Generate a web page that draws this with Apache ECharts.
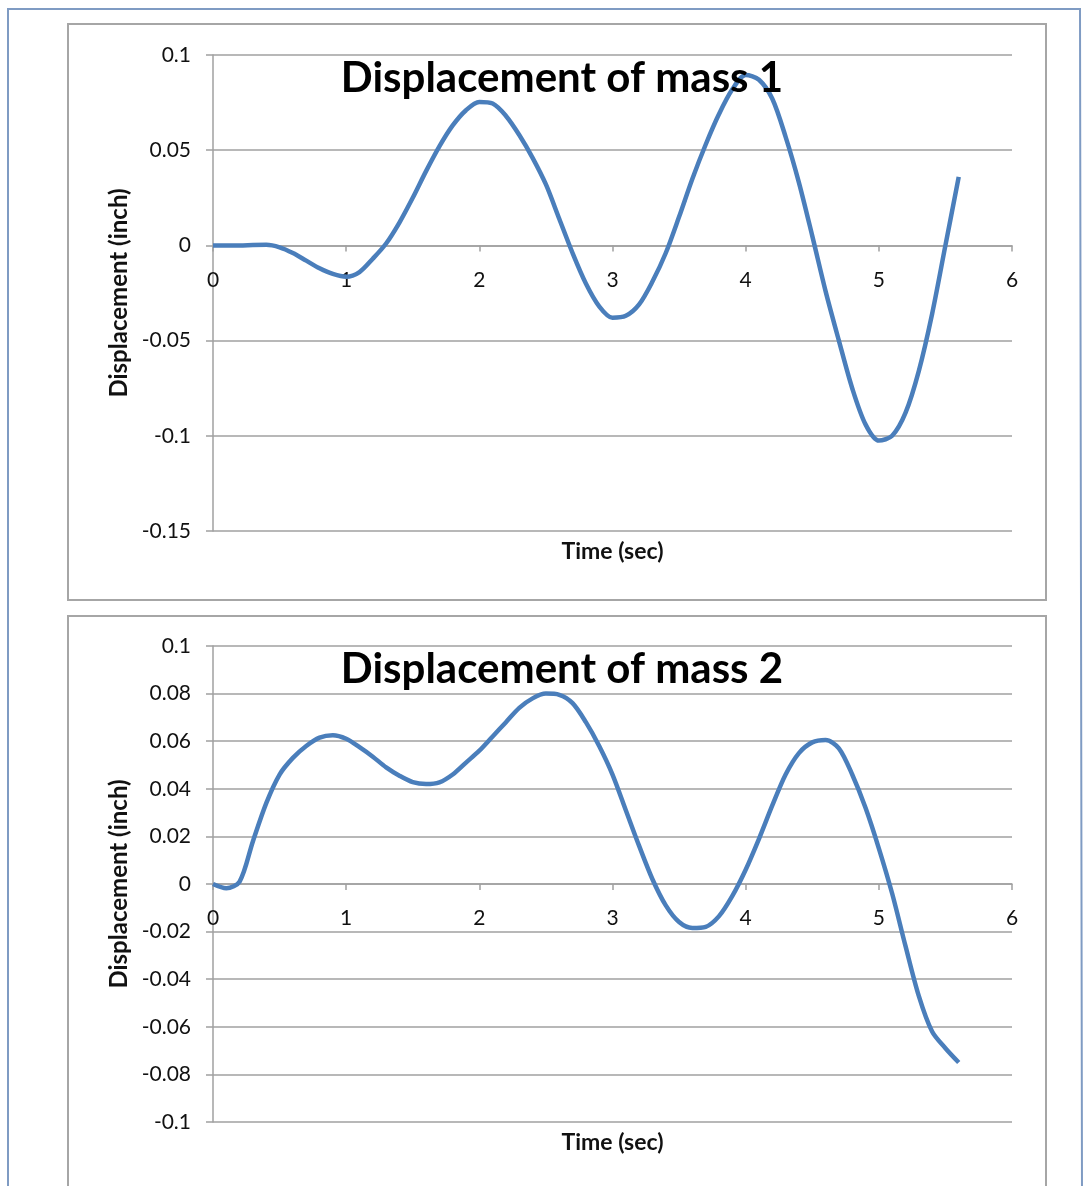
<!DOCTYPE html>
<html>
<head>
<meta charset="utf-8">
<script src="https://cdn.jsdelivr.net/npm/echarts@6/dist/echarts.min.js"></script>
<style>
  html, body { margin: 0; padding: 0; background: #fff; }
  #container { width: 1084px; height: 1186px; }
</style>
</head>
<body>
<div id="container"></div>
<script>
// time samples (sec)
var time = [0, 0.1, 0.2, 0.3, 0.4, 0.5, 0.6, 0.7, 0.8, 0.9,
    1.0, 1.1, 1.2, 1.3, 1.4, 1.5, 1.6, 1.7, 1.8, 1.9,
    2.0, 2.1, 2.2, 2.3, 2.4, 2.5, 2.6, 2.7, 2.8, 2.9,
    3.0, 3.1, 3.2, 3.3, 3.4, 3.5, 3.6, 3.7, 3.8, 3.9,
    4.0, 4.1, 4.2, 4.3, 4.4, 4.5, 4.6, 4.7, 4.8, 4.9,
    5.0, 5.1, 5.2, 5.3, 5.4, 5.5, 5.6];

// displacement of mass 1 (inch)
var mass1 = [0, 0, 0, 0.0002, 0.0003, -0.001, -0.004, -0.008, -0.012, -0.015,
    -0.0165, -0.014, -0.007, 0.001, 0.012, 0.025, 0.039, 0.052, 0.063, 0.071,
    0.0753, 0.0745, 0.068, 0.058, 0.046, 0.032, 0.014, -0.004, -0.02, -0.032,
    -0.038, -0.037, -0.031, -0.019, -0.004, 0.015, 0.035, 0.053, 0.069, 0.082,
    0.0895, 0.087, 0.077, 0.057, 0.033, 0.005, -0.024, -0.05, -0.075, -0.094,
    -0.1025, -0.1, -0.088, -0.066, -0.036, 0.0, 0.036];

// displacement of mass 2 (inch)
var mass2 = [0, -0.0018, 0.001, 0.018, 0.034, 0.046, 0.053, 0.058, 0.0615, 0.0625,
    0.061, 0.0575, 0.0535, 0.049, 0.0455, 0.0428, 0.042, 0.0427, 0.046, 0.051,
    0.056, 0.062, 0.068, 0.074, 0.078, 0.08, 0.0795, 0.076, 0.068, 0.058,
    0.046, 0.031, 0.016, 0.002, -0.009, -0.016, -0.0185, -0.018, -0.0135, -0.005,
    0.006, 0.019, 0.033, 0.046, 0.055, 0.0595, 0.0605, 0.057, 0.046, 0.032,
    0.015, -0.004, -0.026, -0.047, -0.062, -0.069, -0.075];

var titles = ['Displacement of mass 1', 'Displacement of mass 2'];
var xName = 'Time (sec)';
var yName = 'Displacement (inch)';

// y ranges of the two charts: min, max, step
var yRange1 = [-0.15, 0.1, 0.05];
var yRange2 = [-0.1, 0.1, 0.02];

var dom = document.getElementById('container');
var myChart = echarts.init(dom, null, { renderer: 'canvas' });

var FONT = 'Lato';
var GRID_COLOR = '#a0a0a0';
var LINE_COLOR = '#4a7ebb';
var PLOT_H = 476;

function pairs(xs, ys) {
    return xs.map(function (x, i) { return [x, ys[i]]; });
}

// x axis drawn through y = 0, labels under it
function mainX(gridIndex, yr) {
    var lift = PLOT_H * (0 - yr[0]) / (yr[1] - yr[0]);
    return {
        type: 'value', gridIndex: gridIndex, min: 0, max: 6, interval: 1,
        position: 'bottom', offset: -lift,
        axisLine: { onZero: false, lineStyle: { color: GRID_COLOR, width: 1.5 } },
        axisTick: { show: true, length: 6, lineStyle: { color: GRID_COLOR, width: 1.5 } },
        axisLabel: { color: '#111', fontFamily: FONT, fontSize: 21, margin: 24 },
        splitLine: { show: false }
    };
}

// invisible axis at the plot bottom carrying the name
function nameX(gridIndex) {
    return {
        type: 'value', gridIndex: gridIndex, min: 0, max: 6, position: 'bottom', offset: 0,
        axisLine: { show: false, onZero: false },
        axisTick: { show: false },
        axisLabel: { show: false },
        splitLine: { show: false },
        name: xName, nameLocation: 'middle', nameGap: 9,
        nameTextStyle: { color: '#111', fontFamily: FONT, fontWeight: 'bold', fontSize: 23 }
    };
}

function yAx(gridIndex, yr) {
    return {
        type: 'value', gridIndex: gridIndex, min: yr[0], max: yr[1], interval: yr[2],
        axisLine: { show: true, lineStyle: { color: GRID_COLOR, width: 1.5 } },
        axisTick: { show: true, length: 7, lineStyle: { color: GRID_COLOR, width: 1.5 } },
        axisLabel: { color: '#111', fontFamily: FONT, fontSize: 21, margin: 22 },
        splitLine: { show: true, lineStyle: { color: GRID_COLOR, width: 1.5 } },
        name: yName, nameLocation: 'middle', nameGap: 82,
        nameTextStyle: { color: '#111', fontFamily: FONT, fontWeight: 'bold', fontSize: 24 }
    };
}

option = {
    animation: false,
    backgroundColor: '#fff',
    graphic: [
        // outer frame
        { type: 'polyline', z: 0, shape: { points: [[8, 1190], [8, 9], [1080, 9], [1082, 1190]] },
          style: { stroke: '#7f9bc3', lineWidth: 2, fill: null } },
        // chart boxes
        { type: 'rect', z: 0, shape: { x: 68, y: 24, width: 978, height: 576 },
          style: { stroke: '#a6a6a6', lineWidth: 2, fill: '#fff' } },
        { type: 'rect', z: 0, shape: { x: 68, y: 616, width: 978, height: 600 },
          style: { stroke: '#a6a6a6', lineWidth: 2, fill: '#fff' } }
    ],
    title: [
        { text: titles[0], left: 557, top: 52, textAlign: 'center',
          textStyle: { fontFamily: FONT, fontWeight: 'bold', fontSize: 42, color: '#000' } },
        { text: titles[1], left: 557, top: 643, textAlign: 'center',
          textStyle: { fontFamily: FONT, fontWeight: 'bold', fontSize: 42, color: '#000' } }
    ],
    grid: [
        { left: 213, top: 55, width: 799, height: PLOT_H, containLabel: false },
        { left: 213, top: 646, width: 799, height: PLOT_H, containLabel: false }
    ],
    xAxis: [mainX(0, yRange1), nameX(0), mainX(1, yRange2), nameX(1)],
    yAxis: [yAx(0, yRange1), yAx(1, yRange2)],
    series: [
        { type: 'line', xAxisIndex: 0, yAxisIndex: 0, data: pairs(time, mass1),
          smooth: 0.3, showSymbol: false, z: 3,
          lineStyle: { color: LINE_COLOR, width: 4.5 } },
        { type: 'line', xAxisIndex: 2, yAxisIndex: 1, data: pairs(time, mass2),
          smooth: 0.3, showSymbol: false, z: 3,
          lineStyle: { color: LINE_COLOR, width: 4.5 } }
    ]
};
myChart.setOption(option);

window.addEventListener('resize', function () {
    myChart.resize();
});
</script>
</body>
</html>
